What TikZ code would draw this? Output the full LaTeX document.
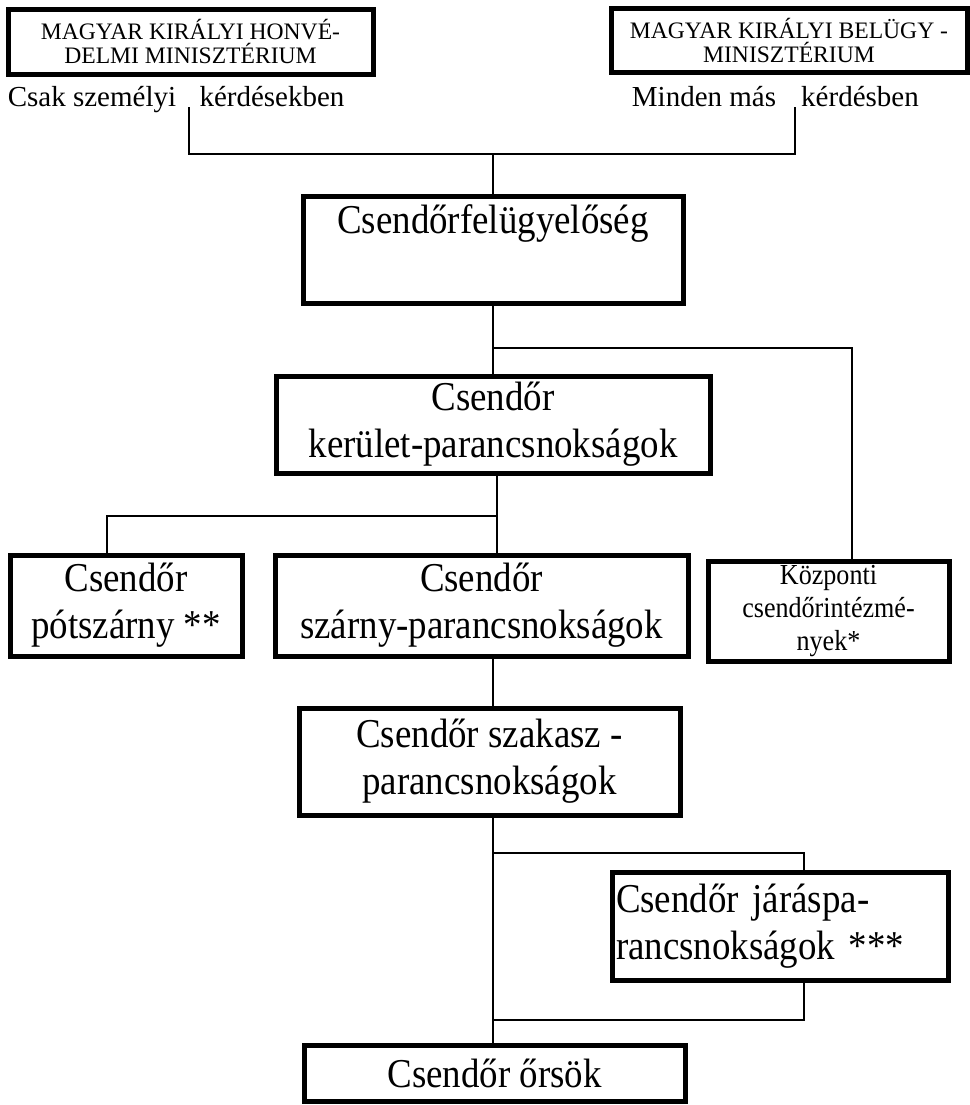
\documentclass[tikz,border=0pt]{standalone}
\usepackage{fontspec}
\setmainfont{Liberation Serif}
\newfontfamily\condfont{Liberation Serif}[FakeStretch=0.9]
\usetikzlibrary{calc}

\begin{document}
\begin{tikzpicture}[x=0.5pt,y=-0.5pt]
        % Styles
        \tikzstyle{box}=[draw,line width=2.5pt,align=center,inner sep=2pt]
        \tikzstyle{big}=[font=\condfont\fontsize{20.5}{23.5}\selectfont]
        \tikzstyle{ministry}=[box,font=\fontsize{11.8}{12}\selectfont]
        \tikzstyle{note}=[font=\fontsize{14.5}{17}\selectfont,inner sep=0pt,anchor=base]
        \tikzstyle{conn}=[line width=0.9pt]
        \useasboundingbox (0,0) rectangle (970,1105);
        %ministries
        \node[ministry,minimum width=182.5pt,minimum height=32.5pt] (honved) at (190.5,41.5) {MAGYAR KIRÁLYI HONVÉ-\\DELMI MINISZTÉRIUM};
        \node[ministry,minimum width=178pt,minimum height=32pt] (belugy) at (789,40) {MAGYAR KIRÁLYI BELÜGY -\\MINISZTÉRIUM};
        \node[note] (csak) at (92,106) {Csak személyi};
        \node[note] (kerdes1) at (272,106) {kérdésekben};
        \node[note] (minden) at (704,106) {Minden más};
        \node[note] (kerdes2) at (860,106) {kérdésben};
        %boxes
        \node[box,big,minimum width=190pt,minimum height=53.5pt] (felugy) at (493,249.5) {Csendőrfelügyelőség\\ \strut};
        \node[box,big,minimum width=217pt,minimum height=48.5pt] (kerulet) at (493,424.5) {Csendőr\\kerület-parancsnokságok};
        \node[box,big,minimum width=116pt,minimum height=50.5pt] (potszarny) at (126,605.5) {Csendőr\\pótszárny **};
        \node[box,big,minimum width=206.5pt,minimum height=50.5pt] (szarny) at (481.5,605.5) {Csendőr\\szárny-parancsnokságok};
        \node[box,font=\condfont\fontsize{14.5}{16.5}\selectfont,minimum width=120.5pt,minimum height=50pt] (kozp) at (828.5,611) {Központi\\csendőrintézmé-\\nyek*};
        \node[box,big,minimum width=190.5pt,minimum height=53.5pt] (szakasz) at (489.5,761.5) {Csendőr szakasz -\\parancsnokságok};
        \node[box,big,align=left,text width=164pt,minimum height=54pt] (jaras) at (780,926) {Csendőr járáspa-\\rancsnokságok ***};
        \node[box,big,minimum width=190.5pt,minimum height=28pt] (orsok) at (494.5,1073) {Csendőr őrsök};
        %lines
        \coordinate (tl) at (189,107);
        \coordinate (tr) at (795,107);
        \coordinate (top) at (493,154);
        \draw[conn] (tl) |- (top) -| (tr);
        \draw[conn] (top) -- (felugy.north);
        \draw[conn] (felugy) -- (kerulet);
        \coordinate (spine) at (493,0);
        \coordinate (b1) at (493,348);
        \coordinate (xk) at (852,0);
        \draw[conn] (b1) -| (kozp.north -| xk);
        \coordinate (b2) at (497,516);
        \coordinate (xp) at (107,0);
        \draw[conn] (kerulet.south -| b2) -- (szarny.north -| b2);
        \draw[conn] (b2) -| (potszarny.north -| xp);
        \draw[conn] (szarny.south -| spine) -- (szakasz.north -| spine);
        \draw[conn] (szakasz.south -| spine) -- (orsok.north -| spine);
        \coordinate (b3) at (493,853);
        \coordinate (b4) at (493,1020);
        \coordinate (xj) at (804,0);
        \draw[conn] (b3) -| (jaras.north -| xj);
        \draw[conn] (jaras.south -| xj) |- (b4);
\end{tikzpicture}
\end{document}
